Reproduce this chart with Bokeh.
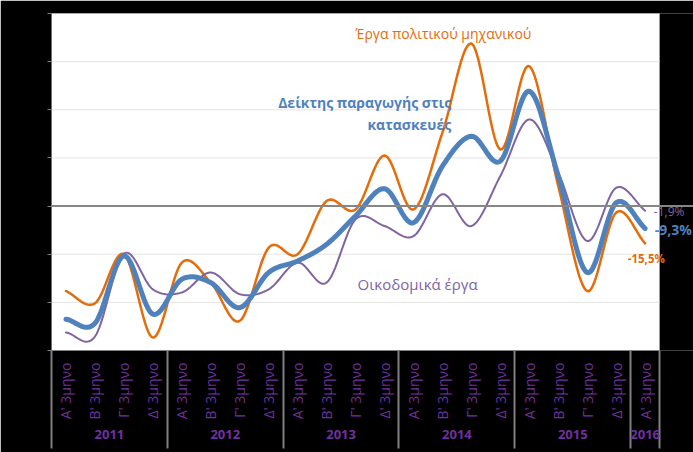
import numpy as np
from bokeh.plotting import figure
from bokeh.models import Range1d, Span, Label, FixedTicker, LinearAxis
from bokeh.embed import file_html
from bokeh.resources import INLINE

years = ["2011", "2012", "2013", "2014", "2015", "2016"]
quarters = ["Α' 3μηνο", "Β' 3μηνο", "Γ' 3μηνο", "Δ' 3μηνο"]
quarter_labels = quarters * 5 + quarters[:1]
year_of_point = [y for y in years[:-1] for _ in quarters] + ["2016"]
n_pts = len(quarter_labels)
spare_slots = 1.17  # empty space to the right of the plot area, for the end labels

# Year-on-year change (%)
index_total = [-47.0, -48.7, -20.7, -44.9, -30.4, -31.8, -42.2, -27.6, -22.8, -15.9, -4.1,
               7.2, -6.9, 16.6, 29.0, 18.7, 47.7, 12.5, -27.6, 1.4, -9.3]
civil_eng = [-35.3, -40.4, -20.0, -54.6, -23.5, -31.8, -47.7, -17.3, -20.0, 2.1, -1.4,
             21.0, -1.4, 30.5, 67.5, 23.5, 58.1, 8.3, -35.3, -2.7, -15.5]
buildings = [-52.5, -54.2, -19.8, -34.6, -35.9, -27.6, -36.6, -34.6, -23.5, -31.8, -5.5,
             -8.3, -12.5, 4.9, -8.3, 12.5, 36.0, 13.9, -14.5, 7.6, -1.9]
y_ticks = [-60, -40, -20, 0, 20, 40, 60, 80]

ORANGE = "#E46C0A"
BLUE = "#4F81BD"
PURPLE = "#8064A2"
TXT_PURPLE = "#7030A0"
FONT = "Open Sans"

xs_pts = [i + 0.5 for i in range(n_pts)]
# year groups: boundaries and centres derived from the point list
bounds, centres = [0], []
for y in years:
    idx = [i for i, yy in enumerate(year_of_point) if yy == y]
    centres.append((idx[0] + idx[-1] + 1) / 2)
    bounds.append(idx[-1] + 1)


def smooth(vals, n=20):
    """Excel-like smoothed line (Catmull-Rom spline) through the points."""
    xs = np.asarray(xs_pts, dtype=float)
    ys = np.asarray(vals, dtype=float)
    px = np.concatenate([[2 * xs[0] - xs[1]], xs, [2 * xs[-1] - xs[-2]]])
    py = np.concatenate([[2 * ys[0] - ys[1]], ys, [2 * ys[-1] - ys[-2]]])
    ox, oy = [], []
    for i in range(1, len(px) - 2):
        t = np.linspace(0, 1, n, endpoint=False)
        for arr, out in ((px, ox), (py, oy)):
            p0, p1, p2, p3 = arr[i - 1], arr[i], arr[i + 1], arr[i + 2]
            out.extend(0.5 * ((2 * p1) + (-p0 + p2) * t +
                              (2 * p0 - 5 * p1 + 4 * p2 - p3) * t ** 2 +
                              (-p0 + 3 * p1 - 3 * p2 + p3) * t ** 3))
    ox.append(xs[-1])
    oy.append(ys[-1])
    return ox, oy


p = figure(x_range=Range1d(0, n_pts + spare_slots), y_range=Range1d(min(y_ticks), max(y_ticks)),
           width=693, height=452, output_backend="svg", toolbar_location=None,
           x_axis_location=None,
           min_border_left=51, min_border_right=0, min_border_top=13, min_border_bottom=102)
p.border_fill_color = "black"
p.background_fill_color = "black"
p.outline_line_color = None

# white plot area + gridlines
p.quad(left=[0], right=[n_pts], bottom=[min(y_ticks)], top=[max(y_ticks)],
       fill_color="white", line_color=None)
p.segment(x0=[0] * len(y_ticks), x1=[n_pts] * len(y_ticks), y0=y_ticks, y1=y_ticks,
          line_color="#E3E3E3", line_width=1)
p.xgrid.grid_line_color = None
p.ygrid.grid_line_color = None

p.yaxis.ticker = FixedTicker(ticks=y_ticks)
p.yaxis.major_label_text_color = "black"
p.yaxis.axis_line_color = None
p.yaxis.major_tick_line_color = "#808080"
p.yaxis.major_tick_out = 4
p.yaxis.major_tick_in = 0
p.yaxis.minor_tick_line_color = None

# quarter labels (+ year separators as long minor ticks)
qax = LinearAxis(ticker=FixedTicker(ticks=xs_pts, minor_ticks=bounds), bounds=(0, n_pts),
                 major_label_overrides={x: q for x, q in zip(xs_pts, quarter_labels)},
                 major_label_orientation=np.pi / 2,
                 major_label_text_color=TXT_PURPLE, major_label_text_font=FONT,
                 major_label_text_font_size="14px", major_label_standoff=12,
                 major_tick_in=0, major_tick_out=0, major_tick_line_color=None,
                 minor_tick_in=-98, minor_tick_out=0, minor_tick_line_color="#808080",
                 minor_tick_line_width=2, axis_line_color="#808080", axis_line_width=1)
# year labels
yax = LinearAxis(ticker=FixedTicker(ticks=centres),
                 major_label_overrides={c: y for c, y in zip(centres, years)},
                 major_label_text_color=TXT_PURPLE, major_label_text_font=FONT,
                 major_label_text_font_style="bold", major_label_text_font_size="13px",
                 major_label_standoff=7, major_tick_in=0, major_tick_out=0,
                 major_tick_line_color=None, minor_tick_line_color=None, axis_line_color=None)
p.add_layout(qax, "below")
p.add_layout(yax, "below")

p.add_layout(Span(location=0, dimension="width", line_color="#868686", line_width=2))

for vals, col, w in ((civil_eng, ORANGE, 2.5), (buildings, PURPLE, 2), (index_total, BLUE, 5)):
    sx, sy = smooth(vals)
    p.line(sx, sy, line_color=col, line_width=w, line_join="round", line_cap="round")

labels = [
    (10.5, 71.7, "Έργα πολιτικού μηχανικού", ORANGE, "normal", "left", "14px"),
    (13.8, 43.0, "Δείκτης παραγωγής στις", BLUE, "bold", "right", "14px"),
    (13.8, 33.9, "κατασκευές", BLUE, "bold", "right", "14px"),
    (10.57, -32.5, "Οικοδομικά έργα", PURPLE, "normal", "left", "15px"),
    (20.8, -2.2, "-1,9%", PURPLE, "normal", "left", "12px"),
    (20.83, -9.7, "-9,3%", BLUE, "bold", "left", "14px"),
    (19.9, -21.7, "-15,5%", ORANGE, "bold", "left", "11.5px"),
]
for x, y, t, c, st, al, fs in labels:
    p.add_layout(Label(x=x, y=y, text=t, text_color=c, text_font=FONT, text_font_style=st,
                       text_font_size=fs, text_align=al, text_baseline="middle"))

open("out.html", "w").write(file_html(p, INLINE))
